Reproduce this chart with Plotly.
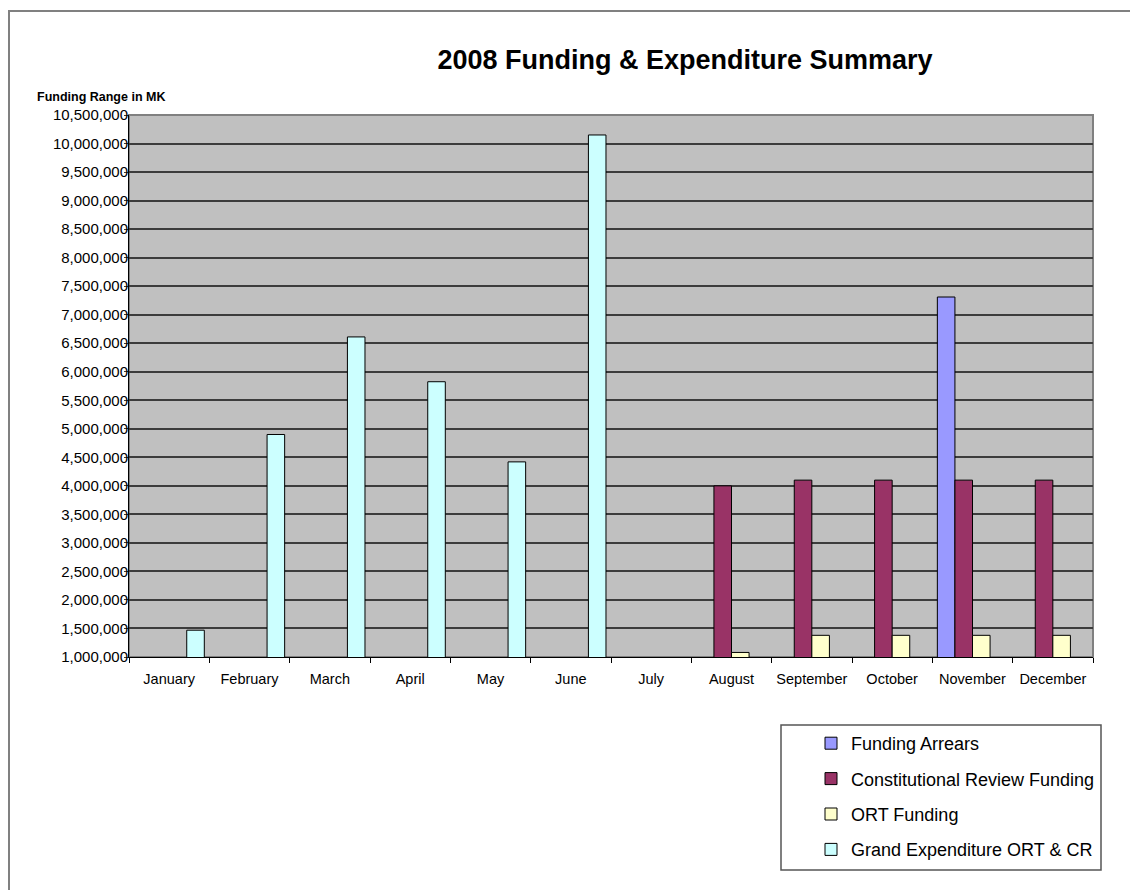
import plotly.graph_objects as go

months = ["January", "February", "March", "April", "May", "June", "July",
          "August", "September", "October", "November", "December"]
funding_arrears = [None, None, None, None, None, None, None, None, None, None, 7310000, None]
constitutional_review = [None, None, None, None, None, None, None, 4000000, 4100000, 4100000, 4100000, 4100000]
ort_funding = [None, None, None, None, None, None, None, 1080000, 1380000, 1380000, 1380000, 1380000]
grand_expenditure = [1470000, 4900000, 6610000, 5825000, 4420000, 10150000, None, None, None, None, None, None]

series_names = ["Funding Arrears", "Constitutional Review Funding", "ORT Funding", "Grand Expenditure ORT & CR"]
series_values = [funding_arrears, constitutional_review, ort_funding, grand_expenditure]
series_colors = ["#9999FF", "#993366", "#FFFFCC", "#CCFFFF"]

y_ticks = list(range(1000000, 10500001, 500000))

FONT = "Liberation Sans, Arial, sans-serif"

# page is rendered with an 8px body margin; work in page pixels and convert
OFF = 8
W, H = 1138 - OFF, 890 - OFF
L, R, T, B = 129 - OFF, 1093 - OFF, 115 - OFF, 657 - OFF
pw, ph = R - L, B - T

def px_x(x):
    return (x - OFF - L) / pw

def px_y(y):
    return (B - (y - OFF)) / ph

fig = go.Figure()
for i, (name, vals, col) in enumerate(zip(series_names, series_values, series_colors)):
    fig.add_trace(go.Bar(
        x=months, y=vals, name=name,
        marker=dict(color=col, line=dict(color="#000000", width=1)),
        legendgroup=f"g{i}",
    ))

fig.update_layout(
    width=W, height=H,
    margin=dict(l=L, r=W - R, t=T, b=H - B, pad=0),
    paper_bgcolor="white",
    plot_bgcolor="#C0C0C0",
    barmode="group",
    bargap=0.125,
    bargroupgap=0,
    font=dict(family=FONT, size=15, color="#000000"),
    title=dict(
        text="<b>2008 Funding & Expenditure Summary</b>",
        font=dict(family=FONT, size=27, color="#000000"),
        x=(685 - OFF) / W, xref="container", xanchor="center",
        y=1 - (60 - OFF) / H, yref="container", yanchor="middle",
    ),
    showlegend=True,
    legend=dict(
        x=px_x(811), y=px_y(725), xref="paper", yref="paper",
        xanchor="left", yanchor="top",
        bgcolor="rgba(0,0,0,0)", borderwidth=0,
        font=dict(family=FONT, size=18, color="#000000"),
        traceorder="grouped", tracegroupgap=9,
        itemwidth=30,
    ),
    xaxis=dict(
        type="category",
        showline=True, linecolor="#000000", linewidth=1,
        ticks="outside", tickson="boundaries", ticklen=5, tickcolor="#000000",
        showgrid=False, tickangle=0, ticklabelstandoff=9,
        tickfont=dict(family=FONT, size=14.5, color="#000000"),
        fixedrange=True,
    ),
    yaxis=dict(
        range=[1000000, 10500000],
        tickmode="array", tickvals=y_ticks,
        ticktext=[f"{v:,}" for v in y_ticks],
        showline=True, linecolor="#000000", linewidth=1,
        ticks="outside", ticklen=4, tickcolor="#3c3c3c", tickwidth=1,
        ticklabelstandoff=-7,
        showgrid=True, gridcolor="#3c3c3c", gridwidth=2,
        zeroline=False,
        tickfont=dict(family=FONT, size=15, color="#000000"),
        fixedrange=True,
    ),
    shapes=[
        # plot area border (top/right grey)
        dict(type="rect", xref="paper", yref="paper", x0=0, x1=1, y0=0, y1=1,
             line=dict(color="#808080", width=2), layer="below"),
        # legend box
        dict(type="rect", xref="paper", yref="paper",
             x0=px_x(781), x1=px_x(1101), y0=px_y(870), y1=px_y(725),
             line=dict(color="#555555", width=1.5), fillcolor="rgba(0,0,0,0)"),
        # outer chart border
        dict(type="rect", xref="paper", yref="paper",
             x0=px_x(9), x1=px_x(1160), y0=px_y(910), y1=px_y(11),
             line=dict(color="#808080", width=2), fillcolor="rgba(0,0,0,0)"),
    ],
    annotations=[
        dict(text="<b>Funding Range in MK</b>", xref="paper", yref="paper",
             x=px_x(35), y=px_y(97), xanchor="left", yanchor="middle",
             showarrow=False, font=dict(family=FONT, size=12.5, color="#000000")),
    ],
)

fig.write_html("out.html", config={"displayModeBar": False})
